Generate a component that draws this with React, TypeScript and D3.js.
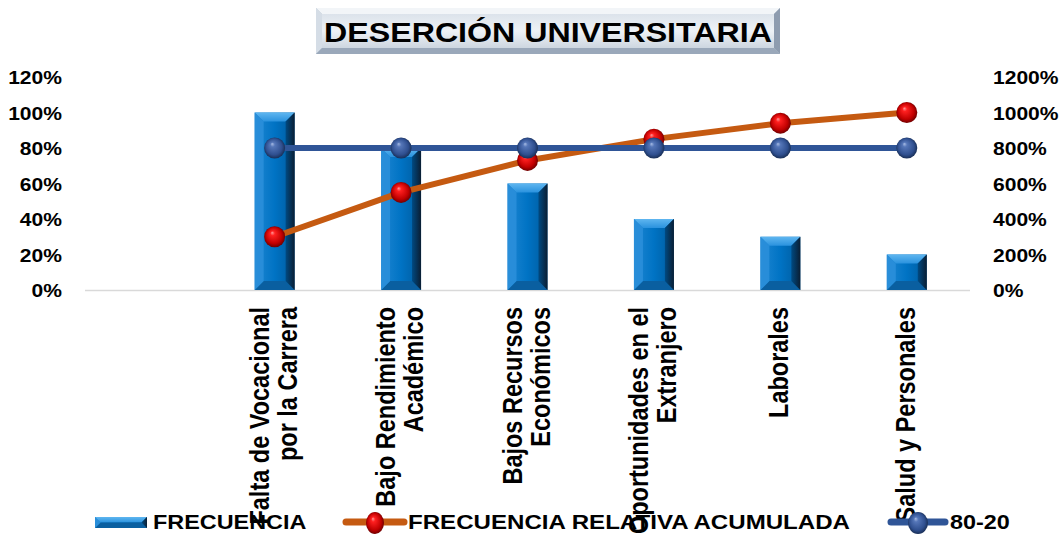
import React from "react";
import * as d3 from "d3";

const W = 1062;
const H = 536;

const categories: string[][] = [
  [],
  ["Falta de Vocacional", "por la Carrera"],
  ["Bajo Rendimiento", "Académico"],
  ["Bajos Recursos", "Económicos"],
  ["Oportunidades en el", "Extranjero"],
  ["Laborales"],
  ["Salud y Personales"],
];
const frecuencia: (number | null)[] = [null, 10, 8, 6, 4, 3, 2];
const acumulada: (number | null)[] = [null, 0.3, 0.55, 0.73, 0.85, 0.94, 1.0];
const ochentaVeinte: (number | null)[] = [null, 0.8, 0.8, 0.8, 0.8, 0.8, 0.8];
const leftTicks = [0, 0.2, 0.4, 0.6, 0.8, 1.0, 1.2];
const rightTicks = [0, 2, 4, 6, 8, 10, 12];
const title = "DESERCIÓN UNIVERSITARIA";
const legendNames = ["FRECUENCIA", "FRECUENCIA RELATIVA ACUMULADA", "80-20"];

const FONT = "'Liberation Sans', Arial, sans-serif";
const SX = 1.17;

const M = { left: 85, right: 970, top: 77, bottom: 290 };

function Bar({ x, y, w, h }: { x: number; y: number; w: number; h: number }) {
  const b = Math.min(9, h / 2, w / 2);
  return (
    <g>
      <rect x={x} y={y} width={w} height={h} fill="url(#barBody)" />
      <polygon points={`${x},${y} ${x + w},${y} ${x + w - b},${y + b} ${x + b},${y + b}`} fill="url(#barTop)" />
      <polygon points={`${x},${y + h} ${x + w},${y + h} ${x + w - b},${y + h - b} ${x + b},${y + h - b}`} fill="#0A5FA0" />
      <polygon points={`${x},${y} ${x + b},${y + b} ${x + b},${y + h - b} ${x},${y + h}`} fill="#2B8FDA" opacity={0.85} />
      <polygon points={`${x + w},${y} ${x + w - b},${y + b} ${x + w - b},${y + h - b} ${x + w},${y + h}`} fill="url(#barRight)" />
    </g>
  );
}

function Sphere({ cx, cy, r, id, rx }: { cx: number; cy: number; r: number; id: string; rx?: number }) {
  return <ellipse cx={cx} cy={cy} rx={rx ?? r} ry={r} fill={`url(#${id})`} />;
}

function SText({ x, y, size, anchor, children, rotate, baseline, len }: any) {
  return (
    <text
      transform={`translate(${x},${y}) scale(${SX},1)${rotate ? ` rotate(${rotate})` : ""}`}
      fontFamily={FONT}
      fontWeight="bold"
      fontSize={size}
      textAnchor={anchor || "start"}
      dominantBaseline={baseline}
      textLength={len}
      lengthAdjust={len ? "spacingAndGlyphs" : undefined}
      fill="#000"
    >
      {children}
    </text>
  );
}

export default function App() {
  const idx = categories.map((_, i) => String(i));
  const x = d3.scaleBand<string>().domain(idx).range([M.left, M.right]).padding(0);
  const yL = d3.scaleLinear().domain([0, 1.2]).range([M.bottom, M.top]);
  const yR = d3.scaleLinear().domain([0, 12]).range([M.bottom, M.top]);
  const fmt = d3.format(".0%");
  const bw = x.bandwidth() * 0.316;
  const cx = (i: number) => (x(String(i)) as number) + x.bandwidth() / 2;

  const lineGen = d3
    .line<[number, number | null]>()
    .defined((d) => d[1] != null)
    .x((d) => cx(d[0]))
    .y((d) => yL(d[1] as number));

  const accPts = acumulada.map((v, i) => [i, v] as [number, number | null]);
  const ochPts = ochentaVeinte.map((v, i) => [i, v] as [number, number | null]);

  const tb = { x: 316, y: 8, w: 464, h: 46 };
  const tbv = 6;

  return (
    <div style={{ position: "absolute", left: 0, top: 0 }}>
      <svg width={W} height={H} style={{ display: "block", background: "#fff" }}>
        <defs>
          <linearGradient id="barBody" x1="0" x2="1" y1="0" y2="0">
            <stop offset="0" stopColor="#1E86D2" />
            <stop offset="0.5" stopColor="#0073C4" />
            <stop offset="1" stopColor="#005A9C" />
          </linearGradient>
          <linearGradient id="barTop" x1="0" x2="0" y1="0" y2="1">
            <stop offset="0" stopColor="#5FB6F0" />
            <stop offset="1" stopColor="#2A92DE" />
          </linearGradient>
          <linearGradient id="barRight" x1="0" x2="1" y1="0" y2="0">
            <stop offset="0" stopColor="#004A82" />
            <stop offset="1" stopColor="#0A1E33" />
          </linearGradient>
          <radialGradient id="sphRed" cx="0.5" cy="0.5" r="0.55" fx="0.38" fy="0.3">
            <stop offset="0" stopColor="#FF9A9A" />
            <stop offset="0.2" stopColor="#FF2020" />
            <stop offset="0.7" stopColor="#C00000" />
            <stop offset="1" stopColor="#5A0000" />
          </radialGradient>
          <radialGradient id="sphBlue" cx="0.5" cy="0.5" r="0.55" fx="0.38" fy="0.3">
            <stop offset="0" stopColor="#A8BCE4" />
            <stop offset="0.2" stopColor="#5576B8" />
            <stop offset="0.7" stopColor="#2F4F8F" />
            <stop offset="1" stopColor="#132647" />
          </radialGradient>
          <linearGradient id="titleFace" x1="0" x2="0" y1="0" y2="1">
            <stop offset="0" stopColor="#DCE3EB" />
            <stop offset="0.5" stopColor="#EEF2F6" />
            <stop offset="1" stopColor="#CDD6E0" />
          </linearGradient>
        </defs>

        {/* Title box */}
        <g>
          <rect x={tb.x} y={tb.y} width={tb.w} height={tb.h} fill="#B8C4D2" />
          <polygon points={`${tb.x},${tb.y} ${tb.x + tb.w},${tb.y} ${tb.x + tb.w - tbv},${tb.y + tbv} ${tb.x + tbv},${tb.y + tbv}`} fill="#F2F5F8" />
          <polygon points={`${tb.x},${tb.y} ${tb.x + tbv},${tb.y + tbv} ${tb.x + tbv},${tb.y + tb.h - tbv} ${tb.x},${tb.y + tb.h}`} fill="#D5DDE6" />
          <polygon points={`${tb.x + tb.w},${tb.y} ${tb.x + tb.w - tbv},${tb.y + tbv} ${tb.x + tb.w - tbv},${tb.y + tb.h - tbv} ${tb.x + tb.w},${tb.y + tb.h}`} fill="#8E9CAF" />
          <polygon points={`${tb.x},${tb.y + tb.h} ${tb.x + tb.w},${tb.y + tb.h} ${tb.x + tb.w - tbv},${tb.y + tb.h - tbv} ${tb.x + tbv},${tb.y + tb.h - tbv}`} fill="#9AA8BA" />
          <rect x={tb.x + tbv} y={tb.y + tbv} width={tb.w - 2 * tbv} height={tb.h - 2 * tbv} fill="url(#titleFace)" />
          <SText x={tb.x + tb.w / 2} y={42} size={27.5} anchor="middle">{title}</SText>
        </g>

        {leftTicks.map((t) => (
          <SText key={"l" + t} x={62} y={yL(t) + 7} size={18} anchor="end">{fmt(t)}</SText>
        ))}
        {rightTicks.map((t) => (
          <SText key={"r" + t} x={993} y={yR(t) + 7} size={18} anchor="start">{fmt(t)}</SText>
        ))}

        <line x1={M.left} x2={M.right} y1={yL(0) + 0.5} y2={yL(0) + 0.5} stroke="#D9D9D9" strokeWidth={1.5} />

        {frecuencia.map((v, i) =>
          v == null ? null : (
            <Bar key={"b" + i} x={cx(i) - bw / 2} y={yR(v)} w={bw} h={yR(0) - yR(v)} />
          )
        )}

        <path d={lineGen(accPts) || ""} fill="none" stroke="#C55A11" strokeWidth={6} strokeLinejoin="round" />
        {accPts.map(([i, v]) => (v == null ? null : <Sphere key={"a" + i} cx={cx(i)} cy={yL(v)} r={10.5} id="sphRed" />))}

        <path d={lineGen(ochPts) || ""} fill="none" stroke="#2F5597" strokeWidth={6} />
        {ochPts.map(([i, v]) => (v == null ? null : <Sphere key={"o" + i} cx={cx(i)} cy={yL(v)} r={10.5} id="sphBlue" />))}

        {categories.map((lines, i) =>
          lines.map((ln, j) => {
            const off = (j - (lines.length - 1) / 2) * 28 + 8;
            return (
              <SText key={"c" + i + "-" + j} x={cx(i) + off} y={307} size={23.5} anchor="end" rotate={-90}>
                {ln}
              </SText>
            );
          })
        )}

        <g>
          <Bar x={95} y={517} w={52} h={11} />
          <SText x={153} y={529} size={20}>{legendNames[0]}</SText>
          <line x1={346} x2={404} y1={522} y2={522} stroke="#C55A11" strokeWidth={7} strokeLinecap="round" />
          <Sphere cx={375} cy={523} r={11} rx={9} id="sphRed" />
          <SText x={408} y={529} size={20} len={442 / SX}>{legendNames[1]}</SText>
          <line x1={891} x2={945} y1={522} y2={522} stroke="#2F5597" strokeWidth={7} strokeLinecap="round" />
          <Sphere cx={918} cy={523} r={11} rx={10} id="sphBlue" />
          <SText x={950} y={529} size={20}>{legendNames[2]}</SText>
        </g>
      </svg>
    </div>
  );
}
